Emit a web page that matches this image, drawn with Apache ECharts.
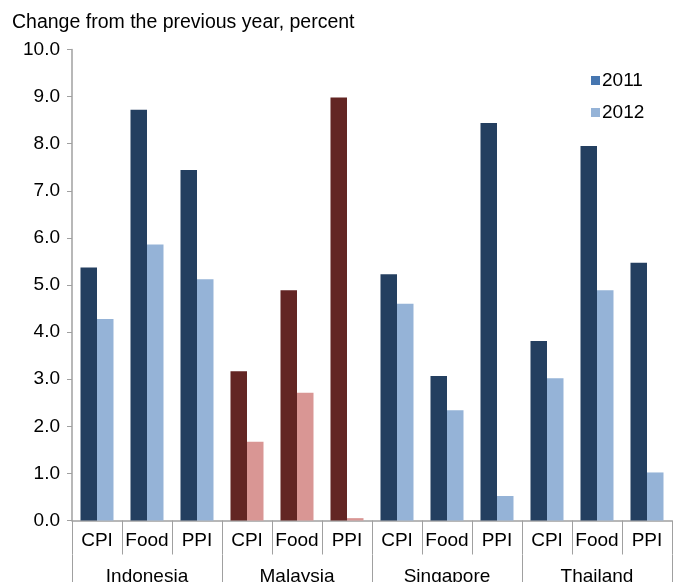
<!DOCTYPE html>
<html>
<head>
<meta charset="utf-8">
<script src="https://cdn.jsdelivr.net/npm/echarts@6/dist/echarts.min.js"></script>
<style>
  html, body { margin: 0; padding: 0; background: #fff; }
  #chart { width: 675px; height: 582px; }
</style>
</head>
<body>
<div id="chart"></div>
<script>
  // 数据
  const countries = ['Indonesia', 'Malaysia', 'Singapore', 'Thailand']
  const measures = ['CPI', 'Food', 'PPI']
  const values2011 = [5.37, 8.72, 7.44, 3.17, 4.89, 8.98, 5.23, 3.07, 8.44, 3.81, 7.95, 5.47]
  const values2012 = [4.28, 5.86, 5.12, 1.67, 2.71, 0.05, 4.60, 2.34, 0.52, 3.02, 4.89, 1.02]
  const yTicks = [0, 1, 2, 3, 4, 5, 6, 7, 8, 9, 10]

  const categories = []
  countries.forEach(c => measures.forEach(m => categories.push(m)))

  const font = 'Liberation Sans, Arial, sans-serif'
  const gray = '#a0a0a0'

  // Malaysia 用红色系
  const colorFor = (i, normal, malaysia) =>
    countries[Math.floor(i / measures.length)] === 'Malaysia' ? malaysia : normal

  const chart = echarts.init(document.getElementById('chart'))

  const option = {
    animation: false,
    textStyle: { fontFamily: font, color: '#000' },
    title: {
      text: 'Change from the previous year, percent',
      left: 7,
      top: 8,
      textStyle: { fontSize: 19.5, fontWeight: 'normal', color: '#000', fontFamily: font }
    },
    legend: {
      orient: 'vertical',
      left: 586,
      top: 66,
      itemWidth: 9,
      itemHeight: 9,
      itemGap: 13,
      textStyle: { fontSize: 19, color: '#000', fontFamily: font, padding: [0, 0, 0, -3] },
      data: [
        { name: '2011', icon: 'rect', itemStyle: { color: '#4676b0' } },
        { name: '2012', icon: 'rect', itemStyle: { color: '#95b3d7' } }
      ]
    },
    grid: { left: 72, right: 3, top: 49.5, bottom: 61.5, outerBoundsMode: 'none' },
    xAxis: [
      {
        type: 'category',
        data: categories,
        axisLine: { lineStyle: { color: gray, width: 1.5 } },
        axisTick: { show: true, interval: 0, length: 34, lineStyle: { color: gray } },
        axisLabel: { interval: 0, fontSize: 19, color: '#000', margin: 11, fontFamily: font }
      },
      {
        type: 'category',
        data: countries,
        position: 'bottom',
        offset: 34,
        axisLine: { show: false },
        axisTick: { show: true, interval: 0, length: 30, lineStyle: { color: gray } },
        axisLabel: { interval: 0, fontSize: 19, color: '#000', margin: 13, fontFamily: font }
      }
    ],
    yAxis: {
      type: 'value',
      min: yTicks[0],
      max: yTicks[yTicks.length - 1],
      interval: 1,
      splitLine: { show: false },
      axisLine: { show: true, lineStyle: { color: gray, width: 1.5 } },
      axisTick: { show: true, length: 5, lineStyle: { color: gray } },
      axisLabel: {
        fontSize: 19,
        color: '#000',
        margin: 12,
        fontFamily: font,
        formatter: v => v.toFixed(1)
      }
    },
    series: [
      {
        name: '2011',
        type: 'bar',
        barGap: '0%',
        barCategoryGap: '34%',
        itemStyle: { color: '#243f60' },
        data: values2011.map((v, i) => ({
          value: v,
          itemStyle: { color: colorFor(i, '#243f60', '#632523') }
        }))
      },
      {
        name: '2012',
        type: 'bar',
        itemStyle: { color: '#95b3d7' },
        data: values2012.map((v, i) => ({
          value: v,
          itemStyle: { color: colorFor(i, '#95b3d7', '#d99694') }
        }))
      }
    ]
  }

  chart.setOption(option)
</script>
</body>
</html>
